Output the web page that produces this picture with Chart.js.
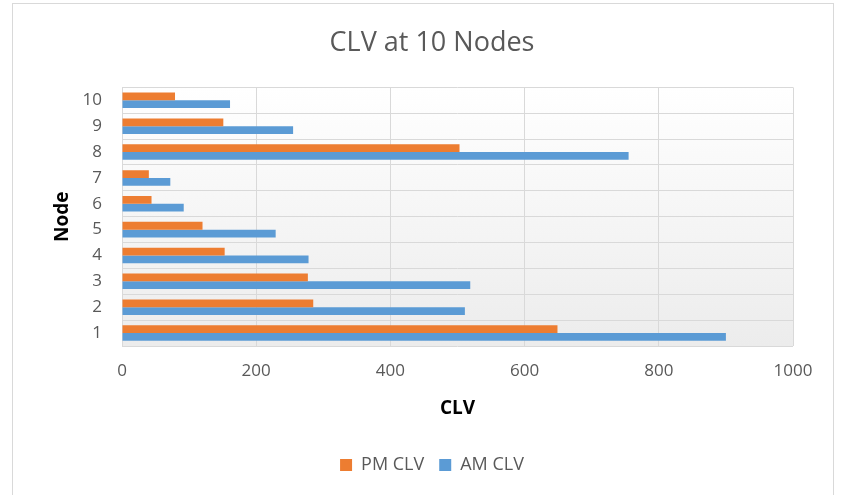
<!DOCTYPE html>
<html>
<head>
<meta charset="utf-8">
<script src="https://cdn.jsdelivr.net/npm/chart.js@4/dist/chart.umd.min.js"></script>
<style>
  html, body { margin: 0; padding: 0; background: #fff; overflow: hidden; }
  #box {
    position: absolute; left: 12px; top: 3px;
    width: 822px; height: 510px;
    border: 1px solid #d9d9d9; box-sizing: border-box;
  }
</style>
</head>
<body>
<div id="box"><canvas id="clvChart"></canvas></div>
<script>
const nodes = ["1", "2", "3", "4", "5", "6", "7", "8", "9", "10"];
const pmClv = [649, 285, 277, 153, 120, 44, 40, 503, 151, 79];
const amClv = [900, 511, 519, 278, 229, 92, 72, 755, 255, 161];
const xTicks = [0, 200, 400, 600, 800, 1000];

// light gradient behind the plot area
const plotBackground = {
    id: "plotBackground",
    beforeDraw(chart) {
        const { ctx, chartArea: a } = chart;
        const g = ctx.createLinearGradient(0, a.top, 0, a.bottom);
        g.addColorStop(0, "#ffffff");
        g.addColorStop(1, "#ececec");
        ctx.save();
        ctx.fillStyle = g;
        ctx.fillRect(a.left, a.top, a.right - a.left, a.bottom - a.top);
        ctx.restore();
    }
};

const tickFont = { family: "Open Sans", size: 17 };
const axisTitleFont = { family: "Open Sans", size: 19, weight: "bold" };

new Chart(document.getElementById("clvChart"), {
    type: "bar",
    data: {
        labels: nodes,
        datasets: [
            { label: "PM CLV", data: pmClv, backgroundColor: "#ED7D31" },
            { label: "AM CLV", data: amClv, backgroundColor: "#5B9BD5" }
        ]
    },
    options: {
        indexAxis: "y",
        responsive: true,
        maintainAspectRatio: false,
        animation: false,
        layout: { padding: { left: 58, right: 40, top: 0, bottom: 28 } },
        datasets: { bar: { categoryPercentage: 0.6, barPercentage: 1 } },
        scales: {
            x: {
                min: 0, max: 1000,
                afterBuildTicks(axis) { axis.ticks = xTicks.map(v => ({ value: v })); },
                afterFit(axis) { axis.height = 95; },
                grid: { color: "#d9d9d9", drawTicks: false },
                border: { display: false },
                ticks: { color: "#595959", font: tickFont, padding: 15, callback: v => String(v) },
                title: {
                    display: true, text: "CLV", color: "#000",
                    font: axisTitleFont, padding: { top: 0, bottom: 21 }
                }
            },
            y: {
                reverse: true,
                afterFit(axis) { axis.width = 51; },
                grid: { color: "#d9d9d9", drawTicks: false },
                border: { display: false },
                ticks: { color: "#595959", font: tickFont, padding: 20 },
                title: {
                    display: true, text: "Node", color: "#000",
                    font: axisTitleFont, padding: { top: -20, bottom: 0 }
                }
            }
        },
        plugins: {
            title: {
                display: true, text: "CLV at 10 Nodes", color: "#595959",
                font: { family: "Open Sans", size: 27, weight: "normal" },
                padding: { top: 23, bottom: 28 }
            },
            legend: {
                position: "bottom",
                labels: {
                    color: "#595959", font: { family: "Open Sans", size: 18 },
                    boxWidth: 12, boxHeight: 12, padding: 15
                }
            },
            tooltip: { enabled: false }
        }
    },
    plugins: [plotBackground]
});
</script>
</body>
</html>
